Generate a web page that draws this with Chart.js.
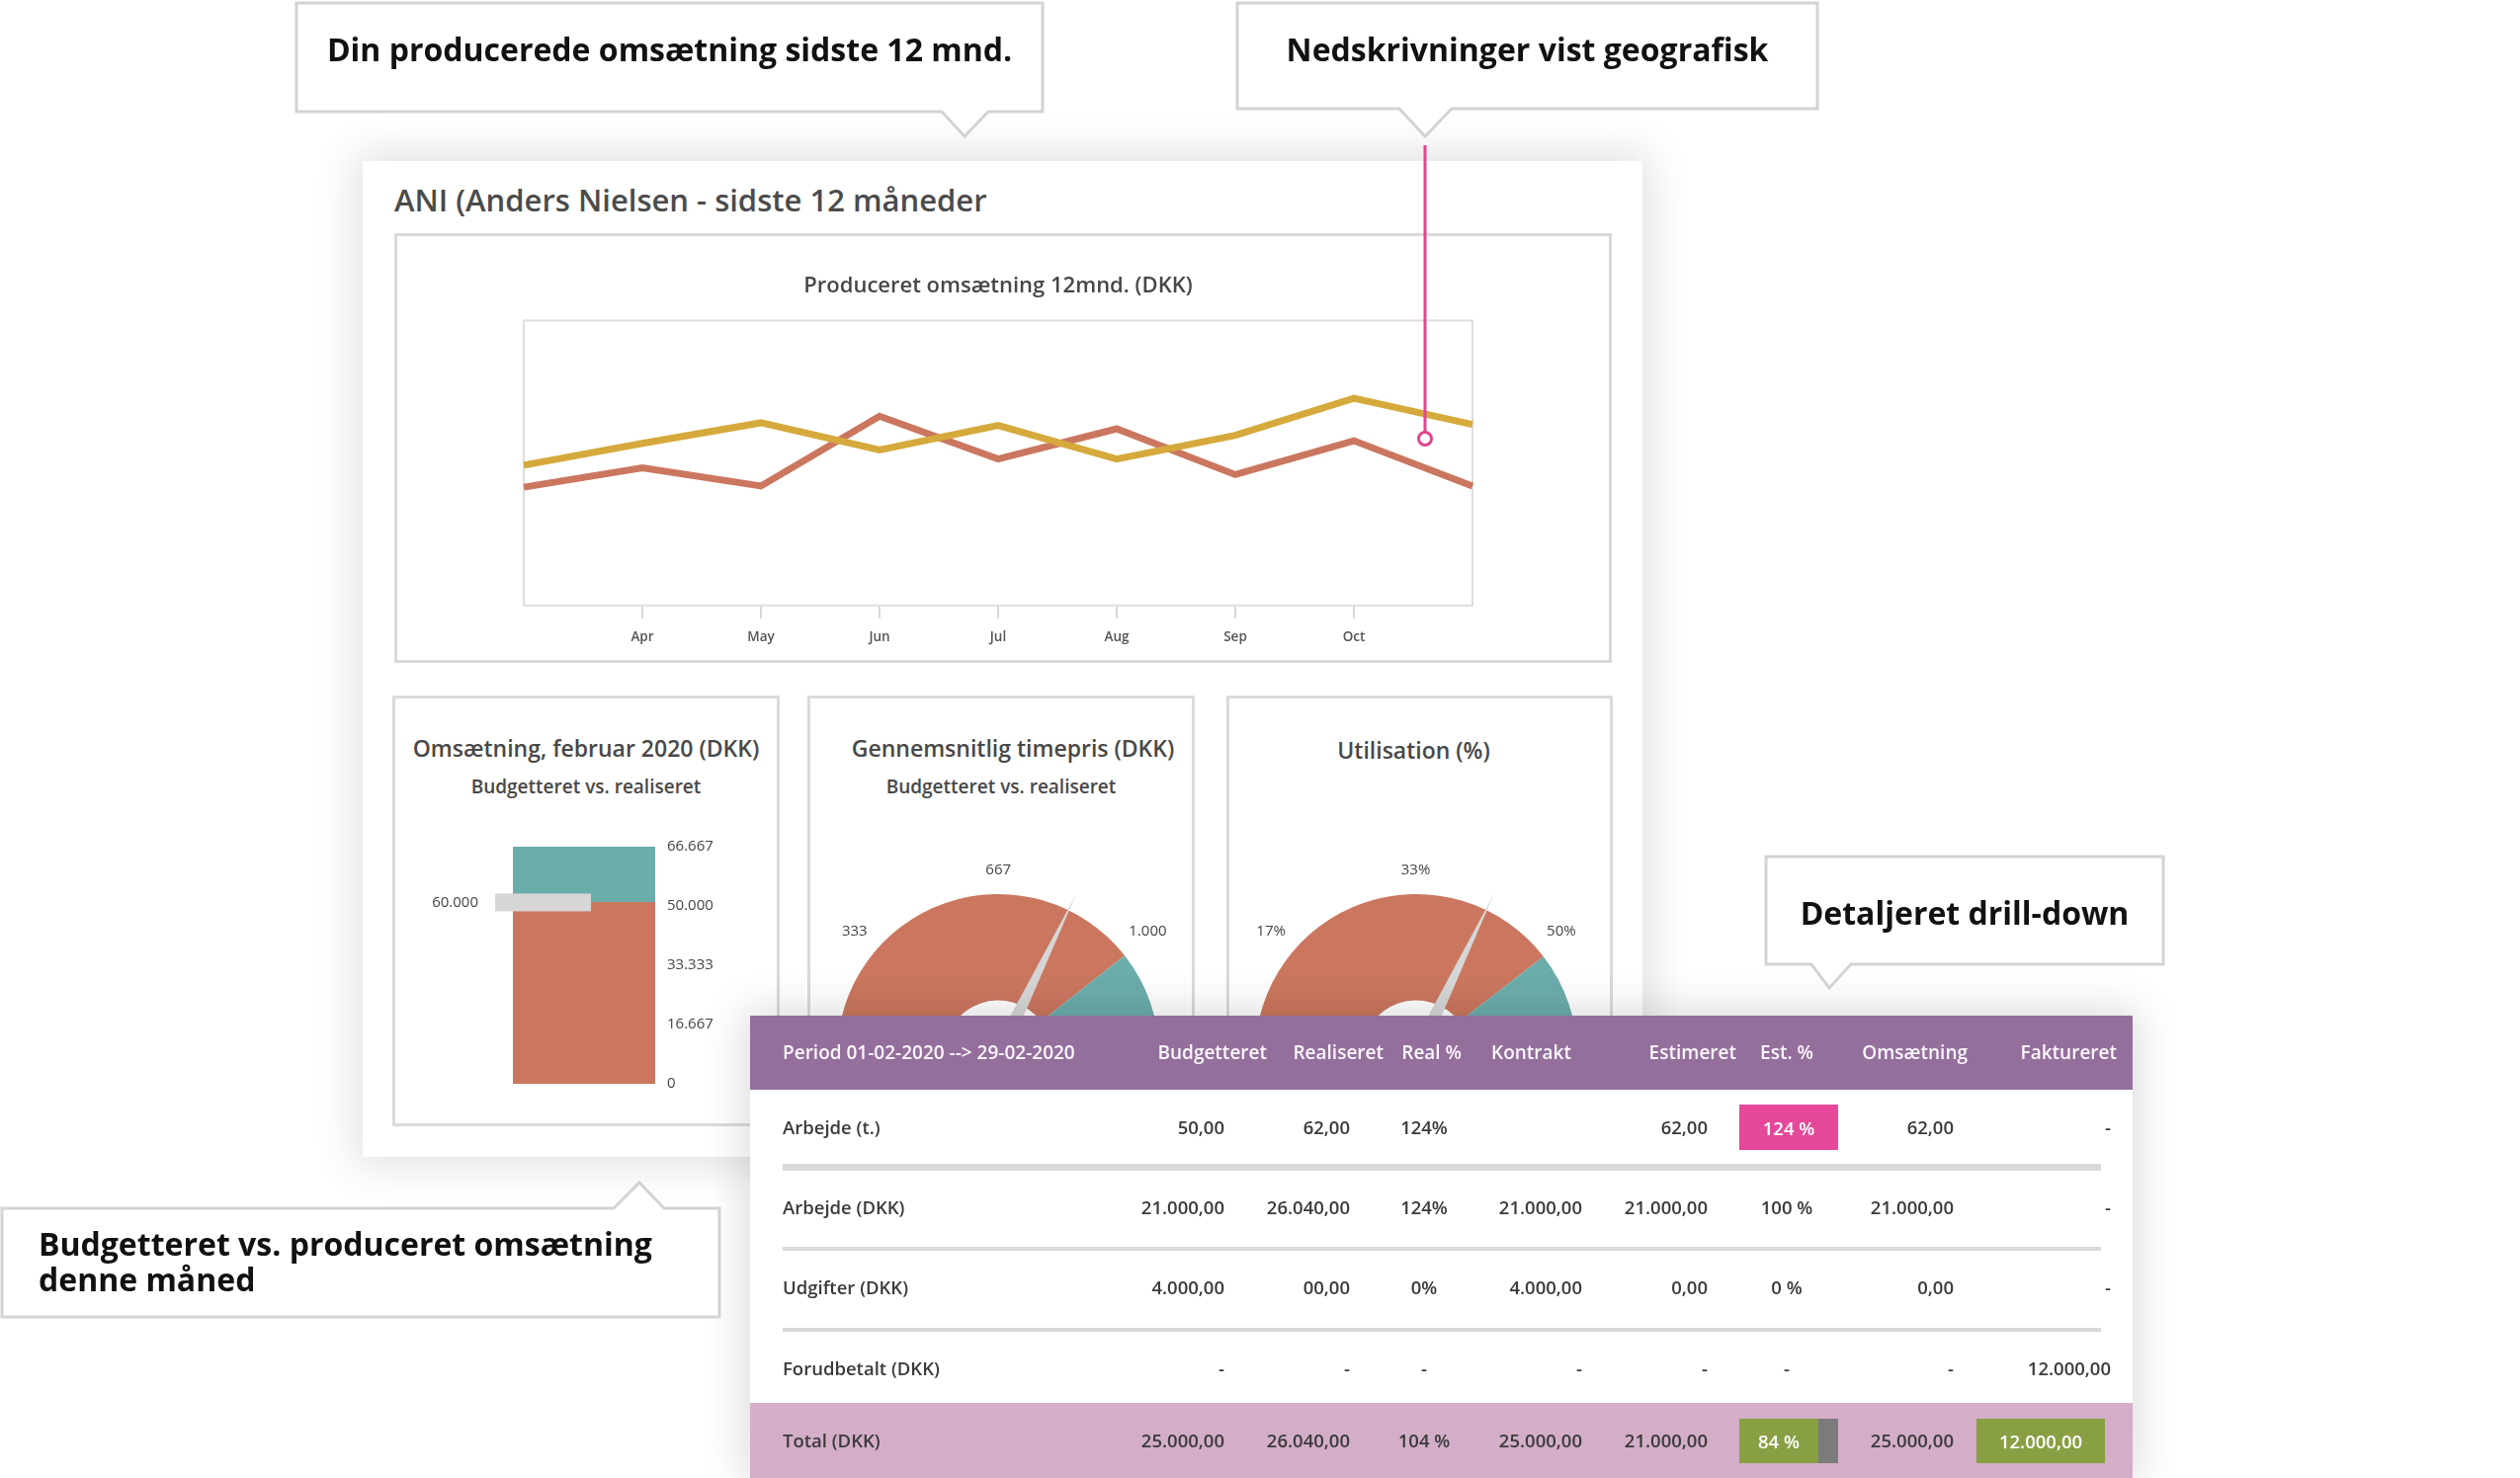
<!DOCTYPE html>
<html lang="da">
<head>
<meta charset="UTF-8" />
<title>ANI – Produceret omsætning</title>
<script src="https://cdn.jsdelivr.net/npm/chart.js"></script>
<style>
  body { margin:0; width:2550px; height:1496px; position:relative; overflow:hidden; background:#fff; font-family:'Open Sans', sans-serif; }
  #panel { position:absolute; left:367px; top:163px; width:1295px; height:1008px; background:#fff; box-shadow:0 0 40px 8px rgba(0,0,0,0.12); z-index:1; }
  #panelTitle { position:absolute; left:399px; top:183px; font-size:31px; line-height:38px; font-weight:600; color:#4b4b4b; z-index:2; }
  .frame { position:absolute; box-sizing:border-box; border:3px solid #dadada; background:#fff; z-index:2; }
  .wrap { position:absolute; z-index:3; }
  .boxTitle { position:absolute; z-index:3; text-align:center; font-size:23px; line-height:30px; font-weight:600; color:#484848; white-space:nowrap; }
  .boxSub { position:absolute; z-index:3; text-align:center; font-size:19px; line-height:26px; font-weight:600; color:#484848; white-space:nowrap; }
  #table { position:absolute; left:759px; top:1028px; width:1399px; height:468px; background:#fff; box-shadow:0 0 40px 6px rgba(0,0,0,0.14); z-index:5; overflow:hidden; }
  #thead { position:absolute; left:0; top:0; width:100%; height:75px; background:#946f9c; }
  #tfoot { position:absolute; left:0; top:392px; width:100%; height:76px; background:#d4aec8; }
  .sep { position:absolute; left:33px; width:1334px; background:#d9d9d9; }
  .cell { position:absolute; line-height:24px; white-space:nowrap; font-size:18.5px; font-weight:600; color:#3a3a3a; }
  .head { font-size:19px; font-weight:600; color:#fbf6fb; }
  .hl { position:absolute; color:#fff; font-size:18.5px; font-weight:600; display:flex; align-items:center; justify-content:center; }
  #callouts { position:absolute; left:0; top:0; z-index:6; }
  .callText { position:absolute; z-index:7; font-size:32px; line-height:40px; font-weight:700; color:#111; white-space:nowrap; }
</style>
</head>
<body>
  <div id="panel"></div>
  <div id="panelTitle">ANI (Anders Nielsen - sidste 12 måneder</div>

  <div class="frame" style="left:399px; top:236px; width:1232px; height:435px;"></div>
  <div class="wrap" style="left:402px; top:239px; width:1226px; height:429px;"><canvas id="lineChart"></canvas></div>

  <div class="frame" style="left:397px; top:704px; width:392px; height:436px;"></div>
  <div class="boxTitle" style="left:397px; top:742px; width:392px;">Omsætning, februar 2020 (DKK)</div>
  <div class="boxSub" style="left:397px; top:783px; width:392px;">Budgetteret vs. realiseret</div>
  <div class="wrap" style="left:400px; top:707px; width:386px; height:430px;"><canvas id="bulletChart"></canvas></div>

  <div class="frame" style="left:817px; top:704px; width:392px; height:436px;"></div>
  <div class="boxTitle" style="left:841px; top:742px; width:368px;">Gennemsnitlig timepris (DKK)</div>
  <div class="boxSub" style="left:817px; top:783px; width:392px;">Budgetteret vs. realiseret</div>
  <div class="wrap" style="left:820px; top:707px; width:386px; height:430px;"><canvas id="rateGauge"></canvas></div>

  <div class="frame" style="left:1241px; top:704px; width:391px; height:436px;"></div>
  <div class="boxTitle" style="left:1235px; top:744px; width:391px;">Utilisation (%)</div>
  <div class="wrap" style="left:1244px; top:707px; width:385px; height:430px;"><canvas id="utilGauge"></canvas></div>

  <div id="table">
    <div id="thead"></div>
    <div id="tfoot"></div>
    <div class="sep" style="top:150px; height:7px;"></div>
    <div class="sep" style="top:234px; height:4px;"></div>
    <div class="sep" style="top:316px; height:4px;"></div>
  </div>

  <svg id="callouts" width="2550" height="1496">
    <g fill="#fff" stroke="#d3d3d3" stroke-width="3">
      <path d="M300,3 H1055 V113 H1000 L976,138 L953,113 H300 Z" />
      <path d="M1252,3 H1839 V110 H1469 L1442,138 L1416,110 H1252 Z" />
      <path d="M1787,867 H2189 V976 H1873 L1851,1000 L1833,976 H1787 Z" />
      <path d="M2,1223 H621 L647,1197 L672,1223 H728 V1333 H2 Z" />
    </g>
    <line x1="1442" y1="147" x2="1442" y2="437" stroke="#e0458e" stroke-width="3" />
    <circle cx="1442" cy="444" r="6.5" fill="#fff" stroke="#e0458e" stroke-width="3" />
  </svg>
  <div class="callText" style="left:300px; top:30px; width:755px; text-align:center;">Din producerede omsætning sidste 12 mnd.</div>
  <div class="callText" style="left:1252px; top:30px; width:587px; text-align:center;">Nedskrivninger vist geografisk</div>
  <div class="callText" style="left:1787px; top:904px; width:402px; text-align:center;">Detaljeret drill-down</div>
  <div class="callText" style="left:39px; top:1241px; line-height:36px;">Budgetteret vs. produceret omsætning<br>denne måned</div>

<script>
  // ---- line chart: produceret omsætning 12 mnd. (values in 1000 DKK)
  const months = ['', 'Apr', 'May', 'Jun', 'Jul', 'Aug', 'Sep', 'Oct', ''];
  const budgetSeries = [49.2, 56.9, 64.1, 54.6, 63.2, 51.4, 59.7, 72.7, 63.5];
  const producedSeries = [41.5, 48.3, 41.9, 66.4, 51.4, 62.0, 45.9, 57.8, 41.9];

  // ---- bullet bar: omsætning februar 2020
  const bulletCategory = ['Februar 2020'];
  const bulletRange = [66667];
  const bulletRealised = [51000];
  const bulletTarget = 51000;
  const bulletTargetLabel = '60.000';
  const bulletTicks = [0, 16667, 33333, 50000, 66667];
  const bulletTickLabels = ['0', '16.667', '33.333', '50.000', '66.667'];

  // ---- gauges
  const gaugeParts = ['Realiseret', 'Rest'];
  const rateSegments = [1050, 283];
  const rateMax = 1333;
  const rateNeedle = 858;
  const rateTickValues = [333, 667, 1000];
  const rateTickLabels = ['333', '667', '1.000'];
  const utilSegments = [52.7, 14];
  const utilMax = 66.7;
  const utilNeedle = 42.9;
  const utilTickValues = [16.7, 33.3, 50];
  const utilTickLabels = ['17%', '33%', '50%'];

  // ---- drill-down table
  const tableHeader = ['Period 01-02-2020 --> 29-02-2020', 'Budgetteret', 'Realiseret', 'Real %', 'Kontrakt', 'Estimeret', 'Est. %', 'Omsætning', 'Faktureret'];
  const rowLabels = ['Arbejde (t.)', 'Arbejde (DKK)', 'Udgifter (DKK)', 'Forudbetalt (DKK)', 'Total (DKK)'];
  const budgetCol = ['50,00', '21.000,00', '4.000,00', '-', '25.000,00'];
  const realisedCol = ['62,00', '26.040,00', '00,00', '-', '26.040,00'];
  const realPctCol = ['124%', '124%', '0%', '-', '104 %'];
  const contractCol = ['', '21.000,00', '4.000,00', '-', '25.000,00'];
  const estimatedCol = ['62,00', '21.000,00', '0,00', '-', '21.000,00'];
  const estPctCol = ['124 %', '100 %', '0 %', '-', '84 %'];
  const revenueCol = ['62,00', '21.000,00', '0,00', '-', '25.000,00'];
  const invoicedCol = ['-', '-', '-', '12.000,00', '12.000,00'];

  const RED = '#cb775f', TEAL = '#6badab', YELLOW = '#d5a93b';

  Chart.defaults.font.family = "'Open Sans', sans-serif";
  Chart.defaults.animation = false;
  Chart.defaults.plugins.legend.display = false;
  Chart.defaults.plugins.tooltip.enabled = false;

  const plotFrame = {
    id: 'plotFrame',
    beforeDatasetsDraw(chart) {
      const { ctx, chartArea: a } = chart;
      ctx.save();
      ctx.strokeStyle = '#dedede';
      ctx.lineWidth = 2;
      ctx.strokeRect(a.left, a.top, a.right - a.left, a.bottom - a.top);
      ctx.restore();
    }
  };

  new Chart(document.getElementById('lineChart'), {
    type: 'line',
    data: {
      labels: months,
      datasets: [
        { label: 'Budget', data: budgetSeries, borderColor: YELLOW, borderWidth: 7, pointRadius: 0, tension: 0 },
        { label: 'Produceret', data: producedSeries, borderColor: RED, borderWidth: 7, pointRadius: 0, tension: 0 }
      ]
    },
    options: {
      responsive: true,
      maintainAspectRatio: false,
      layout: { padding: { left: 128, right: 138, top: 0, bottom: 4 } },
      plugins: {
        title: {
          display: true,
          text: 'Produceret omsætning 12mnd. (DKK)',
          color: '#474747',
          font: { size: 22, weight: '600' },
          padding: { top: 38, bottom: 21 }
        }
      },
      scales: {
        x: {
          offset: false,
          border: { display: false },
          grid: {
            drawOnChartArea: false,
            tickLength: 13,
            lineWidth: 2,
            tickColor: c => (c.index === 0 || c.index === months.length - 1) ? 'rgba(0,0,0,0)' : '#d8d8d8'
          },
          ticks: { color: '#555', font: { size: 13.5, weight: '600' }, padding: 11, maxRotation: 0, autoSkip: false }
        },
        y: { display: false, min: 0, max: 100 }
      }
    },
    plugins: [plotFrame]
  });

  const bulletMarker = {
    id: 'bulletMarker',
    afterDatasetsDraw(chart) {
      const { ctx } = chart;
      const bar = chart.getDatasetMeta(0).data[0];
      const y = chart.scales.y.getPixelForValue(bulletTarget);
      const left = bar.x - bar.width / 2 - 18;
      ctx.save();
      ctx.fillStyle = '#d6d6d6';
      ctx.fillRect(left, y - 9, 97, 18);
      ctx.fillStyle = '#444';
      ctx.font = "15px 'Open Sans', sans-serif";
      ctx.textAlign = 'right';
      ctx.textBaseline = 'middle';
      ctx.fillText(bulletTargetLabel, left - 17, y);
      ctx.restore();
    }
  };

  new Chart(document.getElementById('bulletChart'), {
    type: 'bar',
    data: {
      labels: bulletCategory,
      datasets: [
        { label: 'Realiseret', data: bulletRealised, backgroundColor: RED, grouped: false, barPercentage: 1, categoryPercentage: 1 },
        { label: 'Skala', data: bulletRange, backgroundColor: TEAL, grouped: false, barPercentage: 1, categoryPercentage: 1 }
      ]
    },
    options: {
      responsive: true,
      maintainAspectRatio: false,
      layout: { padding: { left: 119, right: 23, top: 150, bottom: 40 } },
      scales: {
        x: { display: false },
        y: {
          position: 'right',
          min: 0,
          max: 66667,
          afterFit(scale) { scale.width = 100; },
          afterBuildTicks(scale) { scale.ticks = bulletTicks.map(v => ({ value: v })); },
          grid: { display: false, drawTicks: false },
          border: { display: false },
          ticks: { padding: 12, color: '#444', font: { size: 15 }, callback: (v, i) => bulletTickLabels[i] }
        }
      }
    },
    plugins: [bulletMarker]
  });

  function gaugeDecor(needle, max, tickValues, tickLabels) {
    return {
      id: 'gaugeDecor',
      afterDatasetsDraw(chart) {
        const { ctx } = chart;
        const { x, y, outerRadius } = chart.getDatasetMeta(0).data[0];
        ctx.save();
        ctx.font = "15px 'Open Sans', sans-serif";
        ctx.fillStyle = '#444';
        ctx.textBaseline = 'middle';
        tickValues.forEach((v, i) => {
          const a = Math.PI - v / max * Math.PI;
          const r = outerRadius + 24;
          const c = Math.cos(a);
          ctx.textAlign = Math.abs(c) < 0.2 ? 'center' : (c < 0 ? 'right' : 'left');
          ctx.fillText(tickLabels[i], x + r * c, y - r * Math.sin(a) + 10 * Math.abs(c));
        });
        const a = Math.PI - needle / max * Math.PI;
        const tip = outerRadius * 1.11, w = 8;
        ctx.fillStyle = '#d6d6d6';
        ctx.beginPath();
        ctx.moveTo(x + tip * Math.cos(a), y - tip * Math.sin(a));
        ctx.lineTo(x + w * Math.cos(a + Math.PI / 2), y - w * Math.sin(a + Math.PI / 2));
        ctx.lineTo(x + w * Math.cos(a - Math.PI / 2), y - w * Math.sin(a - Math.PI / 2));
        ctx.closePath();
        ctx.fill();
        ctx.restore();
      }
    };
  }

  function makeGauge(id, segments, padding, decor) {
    new Chart(document.getElementById(id), {
      type: 'doughnut',
      data: {
        labels: gaugeParts,
        datasets: [{ data: segments, backgroundColor: [RED, TEAL], borderWidth: 0 }]
      },
      options: {
        responsive: true,
        maintainAspectRatio: false,
        rotation: -90,
        circumference: 180,
        cutout: '34%',
        layout: { padding: padding }
      },
      plugins: [decor]
    });
  }
  makeGauge('rateGauge', rateSegments, { left: 27, right: 33, top: 198, bottom: 69 },
    gaugeDecor(rateNeedle, rateMax, rateTickValues, rateTickLabels));
  makeGauge('utilGauge', utilSegments, { left: 26, right: 33, top: 198, bottom: 69 },
    gaugeDecor(utilNeedle, utilMax, utilTickValues, utilTickLabels));

  // ---- table layout
  const T_LEFT = 759, T_TOP = 1028, T_W = 1399;
  const headAnchor = [[792, 'left'], [1282, 'right'], [1400, 'right'], [1479, 'right'], [1509, 'left'], [1757, 'right'], [1835, 'right'], [1991, 'right'], [2142, 'right']];
  const bodyAnchor = [[792, 'left'], [1239, 'right'], [1366, 'right'], [1441, 'center'], [1601, 'right'], [1728, 'right'], [1808, 'center'], [1977, 'right'], [2136, 'right']];
  const headY = 1065;
  const rowY = [1141, 1222, 1303, 1385, 1458];
  const highlights = [
    { row: 0, col: 6, x0: 1760, x1: 1860, y0: 1118, y1: 1164, bg: '#e5489a' },
    { row: 4, col: 6, x0: 1760, x1: 1840, y0: 1436, y1: 1481, bg: '#88a043', stripe: '#7b7b7b', stripeW: 20 },
    { row: 4, col: 8, x0: 2000, x1: 2130, y0: 1436, y1: 1481, bg: '#88a043' }
  ];

  const table = document.getElementById('table');
  function place(text, x, align, yc, cls) {
    const s = document.createElement('div');
    s.className = 'cell ' + cls;
    s.textContent = text;
    s.style.top = (yc - T_TOP - 12) + 'px';
    if (align === 'left') s.style.left = (x - T_LEFT) + 'px';
    else if (align === 'right') s.style.right = (T_LEFT + T_W - x) + 'px';
    else { s.style.left = (x - T_LEFT) + 'px'; s.style.transform = 'translateX(-50%)'; }
    table.appendChild(s);
  }
  tableHeader.forEach((h, i) => place(h, headAnchor[i][0], headAnchor[i][1], headY, 'head'));
  const columns = [rowLabels, budgetCol, realisedCol, realPctCol, contractCol, estimatedCol, estPctCol, revenueCol, invoicedCol];
  rowLabels.forEach((_, r) => {
    columns.forEach((col, c) => {
      const hl = highlights.find(h => h.row === r && h.col === c);
      if (hl) {
        const d = document.createElement('div');
        d.className = 'hl';
        d.style.left = (hl.x0 - T_LEFT) + 'px';
        d.style.top = (hl.y0 - T_TOP) + 'px';
        d.style.width = (hl.x1 - hl.x0) + 'px';
        d.style.height = (hl.y1 - hl.y0) + 'px';
        d.style.background = hl.bg;
        d.textContent = col[r];
        table.appendChild(d);
        if (hl.stripe) {
          const st = document.createElement('div');
          st.style.cssText = 'position:absolute;left:' + (hl.x1 - T_LEFT) + 'px;top:' + (hl.y0 - T_TOP) + 'px;width:' + hl.stripeW + 'px;height:' + (hl.y1 - hl.y0) + 'px;background:' + hl.stripe;
          table.appendChild(st);
        }
      } else if (col[r] !== '') {
        place(col[r], bodyAnchor[c][0], bodyAnchor[c][1], rowY[r], '');
      }
    });
  });
</script>
</body>
</html>
